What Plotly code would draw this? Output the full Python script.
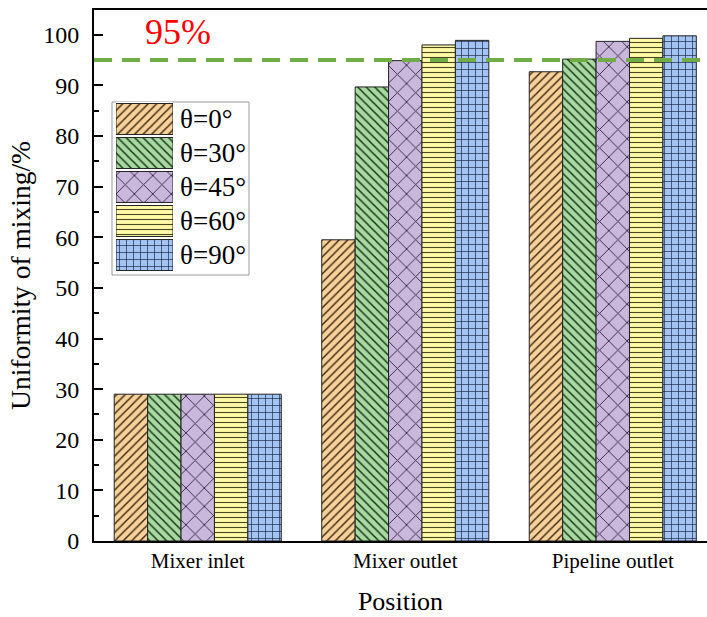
import plotly.graph_objects as go

positions = ["Mixer inlet", "Mixer outlet", "Pipeline outlet"]
angles = ["θ=0°", "θ=30°", "θ=45°", "θ=60°", "θ=90°"]
values = {
    "θ=0°":  [29.0, 59.5, 92.7],
    "θ=30°": [29.0, 89.7, 95.2],
    "θ=45°": [29.0, 94.9, 98.7],
    "θ=60°": [29.0, 98.0, 99.3],
    "θ=90°": [29.0, 98.9, 99.8],
}
threshold = 95

fills = ["#F8D09A", "#A7D9A0", "#C9B8DB", "#FFF9A8", "#A3C4F3"]
lines = ["#3a2810", "#173015", "#35264a", "#4a4820", "#162442"]
shapes_p = ["/", "\\", "x", "-", "+"]
sizes = [6, 6, 13, 5, 7]
solid = [0.24, 0.24, 0.14, 0.22, 0.18]

FONT = "Liberation Serif, Times New Roman, serif"

fig = go.Figure()
for i, a in enumerate(angles):
    pat = dict(shape=shapes_p[i], size=sizes[i], solidity=solid[i],
               fgcolor=lines[i], bgcolor=fills[i], fillmode="replace")
    fig.add_trace(go.Bar(
        x=positions, y=values[a], name=a, showlegend=False,
        marker=dict(color=fills[i], pattern=pat, line=dict(color="#222", width=1)),
    ))
    # legend swatch drawn on a small auxiliary axis pair
    fig.add_trace(go.Bar(
        x=[1], y=[i], orientation="h", xaxis="x2", yaxis="y2", showlegend=False,
        width=0.91, offset=-0.455, hoverinfo="skip",
        marker=dict(color=fills[i], pattern=pat, line=dict(color="#222", width=1)),
    ))

W, H = 707, 617
L, R, T, B = 94, 0, 10, 76
pw, ph = W - L - R, H - T - B

def px(x):
    return (x - L) / pw

def py(y):
    return (H - B - y) / ph

fig.update_layout(
    width=W, height=H,
    margin=dict(l=L, r=R, t=T, b=B),
    plot_bgcolor="white", paper_bgcolor="white",
    barmode="group", bargap=0.195, bargroupgap=0,
    font=dict(family=FONT, color="black"),
    xaxis=dict(
        type="category", range=[-0.5, 2.454],
        showline=True, linecolor="black", linewidth=2, mirror=True,
        ticks="", tickfont=dict(size=21, family=FONT),
        title=dict(text="Position", font=dict(size=26, family=FONT), standoff=20),
        showgrid=False, zeroline=False,
    ),
    yaxis=dict(
        range=[0, 104.9],
        showline=True, linecolor="black", linewidth=2, mirror=False,
        ticks="inside", ticklen=9, tickwidth=2, tickcolor="black",
        tickvals=list(range(0, 101, 10)),
        minor=dict(ticks="inside", ticklen=5, tickwidth=2, tickcolor="black",
                   tickvals=list(range(5, 101, 10))),
        tickfont=dict(size=24, family=FONT), ticklabelstandoff=8,
        title=dict(text="Uniformity of mixing/%", font=dict(size=27.5, family=FONT), standoff=5),
        showgrid=False, zeroline=False,
    ),
    xaxis2=dict(domain=[px(116), px(173)], anchor="y2", range=[0, 1],
                visible=False, fixedrange=True),
    yaxis2=dict(domain=[py(272), py(102)], anchor="x2", side="right",
                range=[4.5, -0.5], tickvals=list(range(len(angles))), ticktext=angles,
                ticks="", showline=False, showgrid=False, zeroline=False,
                tickfont=dict(size=27, family=FONT), ticklabelstandoff=6),
    shapes=[
        dict(type="line", xref="paper", x0=0, x1=1, yref="y", y0=threshold, y1=threshold,
             line=dict(color="#70AD47", width=4, dash="18px,10px"), layer="above"),
        dict(type="rect", xref="paper", yref="paper", x0=px(112), x1=px(249),
             y0=py(275), y1=py(102), line=dict(color="#9a9a9a", width=1),
             fillcolor="rgba(0,0,0,0)", layer="below"),
    ],
    annotations=[
        dict(text=f"{threshold}%", xref="paper", yref="y", x=px(178), y=100.6,
             showarrow=False, font=dict(size=36, color="#FF0000", family=FONT),
             xanchor="center", yanchor="middle"),
    ],
)

fig.write_html(
    "out.html",
    config={"displayModeBar": False},
    post_script="document.body.style.margin='0';document.body.style.overflow='hidden';",
)
